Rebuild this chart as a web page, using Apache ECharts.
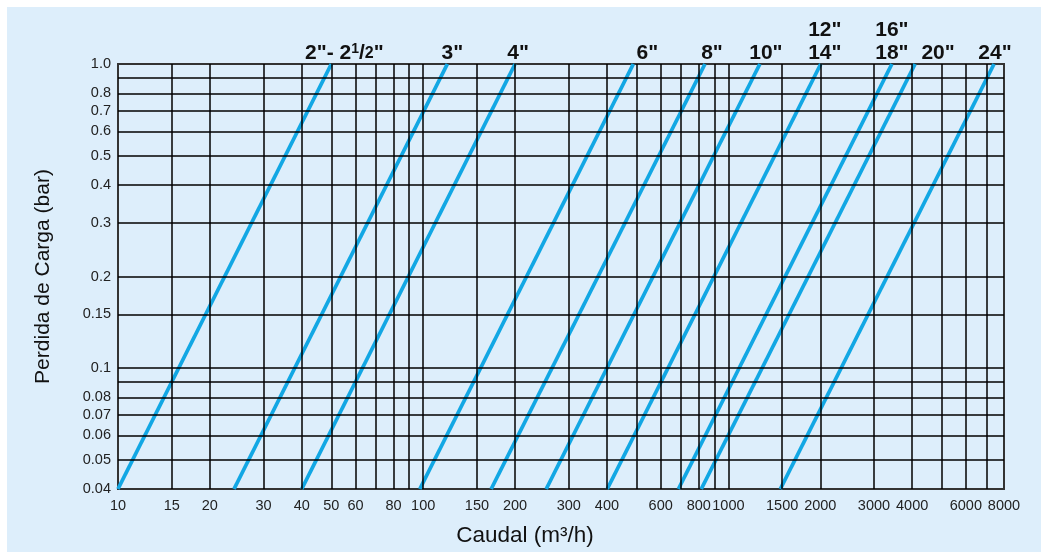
<!DOCTYPE html>
<html><head><meta charset="utf-8">
<script src="https://cdn.jsdelivr.net/npm/echarts@6/dist/echarts.min.js"></script>
<style>html,body{margin:0;padding:0;background:#fff;} #c{position:absolute;left:7px;top:7px;width:1034px;height:545px;background:#ddeefb;}</style>
</head><body><div id="c"></div>
<script>
// ---- data ----
const sizeLabels = ['2"- 2½"', '3"', '4"', '6"', '8"', '10"', '12"\n14"', '16"\n18"', '20"', '24"'];
const flowAtMinLoss = [10, 24, 40, 97.5, 167, 253, 401, 686, 815, 1480];      // m3/h at 0.04 bar
const flowAtMaxLoss = [50, 120, 200, 488, 838, 1268, 2008, 3433, 4090, 7420]; // m3/h at 1.0 bar
const lossRange = [0.04, 1.0];
const xTickLabels = [10, 15, 20, 30, 40, 50, 60, 80, 100, 150, 200, 300, 400, 600, 800, 1000, 1500, 2000, 3000, 4000, 6000, 8000];
const xGridValues = [15, 20, 30, 40, 50, 60, 70, 80, 90, 100, 150, 200, 300, 400, 500, 600, 700, 800, 900, 1000, 1500, 2000, 3000, 4000, 5000, 6000, 7000];
const yTickLabels = [0.04, 0.05, 0.06, 0.07, 0.08, 0.1, 0.15, 0.2, 0.3, 0.4, 0.5, 0.6, 0.7, 0.8, 1.0];
const yGridValues = [0.05, 0.06, 0.07, 0.08, 0.09, 0.1, 0.15, 0.2, 0.3, 0.4, 0.5, 0.6, 0.7, 0.8, 0.9];

// ---- styling ----
const labelShift = [13, 5, 3, 14, 7, 6, 4, 0, 23, 1];
const lineColor = '#12a7e4';
const font = 'Liberation Sans, Arial, sans-serif';

const chart = echarts.init(document.getElementById('c'));

const dataSeries = sizeLabels.map((name, i) => {
  const lbl = {
    show: true, align: 'center', verticalAlign: 'bottom', distance: 0, offset: [labelShift[i], 1],
    color: '#111', fontFamily: font, fontWeight: 'bold', fontSize: 21, lineHeight: 23,
    formatter: name
  };
  if (i === 0) {
    lbl.formatter = '{a|2"- 2}{s|1}{a|/}{b|2}{a|"}';
    lbl.rich = {
      a: { fontFamily: font, fontWeight: 'bold', fontSize: 21, color: '#111', lineHeight: 23 },
      s: { fontFamily: font, fontWeight: 'bold', fontSize: 14, color: '#111', verticalAlign: 'top', lineHeight: 23, padding: [0, 0, 8, 0] },
      b: { fontFamily: font, fontWeight: 'bold', fontSize: 16, color: '#111', lineHeight: 23 }
    };
  }
  return {
    type: 'line', name, z: 3, clip: false, symbol: 'none', showSymbol: false,
    lineStyle: { color: lineColor, width: 3.8 },
    data: [
      [flowAtMinLoss[i], lossRange[0]],
      [flowAtMaxLoss[i], lossRange[1]]
    ],
    endLabel: lbl
  };
});

const gridSeries = {
  type: 'line', z: 1, data: [], silent: true,
  markLine: {
    silent: true, symbol: ['none', 'none'], animation: false,
    label: { show: false },
    lineStyle: { color: '#000', width: 1.5, type: 'solid' },
    emphasis: { disabled: true },
    data: xGridValues.map(v => ({ xAxis: v })).concat(yGridValues.map(v => ({ yAxis: v })))
  }
};

chart.setOption({
  animation: false,
  grid: { left: 111, right: 37, top: 57, bottom: 62, show: true, borderColor: '#333', borderWidth: 2, backgroundColor: 'transparent' },
  xAxis: {
    type: 'log', logBase: 10, min: 10, max: 8000,
    name: 'Caudal (m³/h)', nameLocation: 'middle', nameGap: 35,
    nameTextStyle: { fontFamily: font, fontSize: 22.5, color: '#111', padding: [0, 72, 0, 0] },
    axisLine: { show: false }, axisTick: { show: false }, splitLine: { show: false }, minorSplitLine: { show: false },
    axisLabel: { customValues: xTickLabels, fontFamily: font, fontSize: 14.5, color: '#222', margin: 9,
      formatter: v => String(Math.round(v)) }
  },
  yAxis: {
    type: 'log', logBase: 10, min: 0.04, max: 1,
    name: 'Perdida de Carga (bar)', nameLocation: 'middle', nameGap: 64, nameRotate: 90,
    nameTextStyle: { fontFamily: font, fontSize: 21, color: '#111' },
    axisLine: { show: false }, axisTick: { show: false }, splitLine: { show: false },
    axisLabel: { customValues: yTickLabels, fontFamily: font, fontSize: 14.5, color: '#222', margin: 7,
      formatter: v => { const r = Number(v.toPrecision(3)); return r === 1 ? '1.0' : String(r); } }
  },
  series: [gridSeries].concat(dataSeries)
});
</script></body></html>
